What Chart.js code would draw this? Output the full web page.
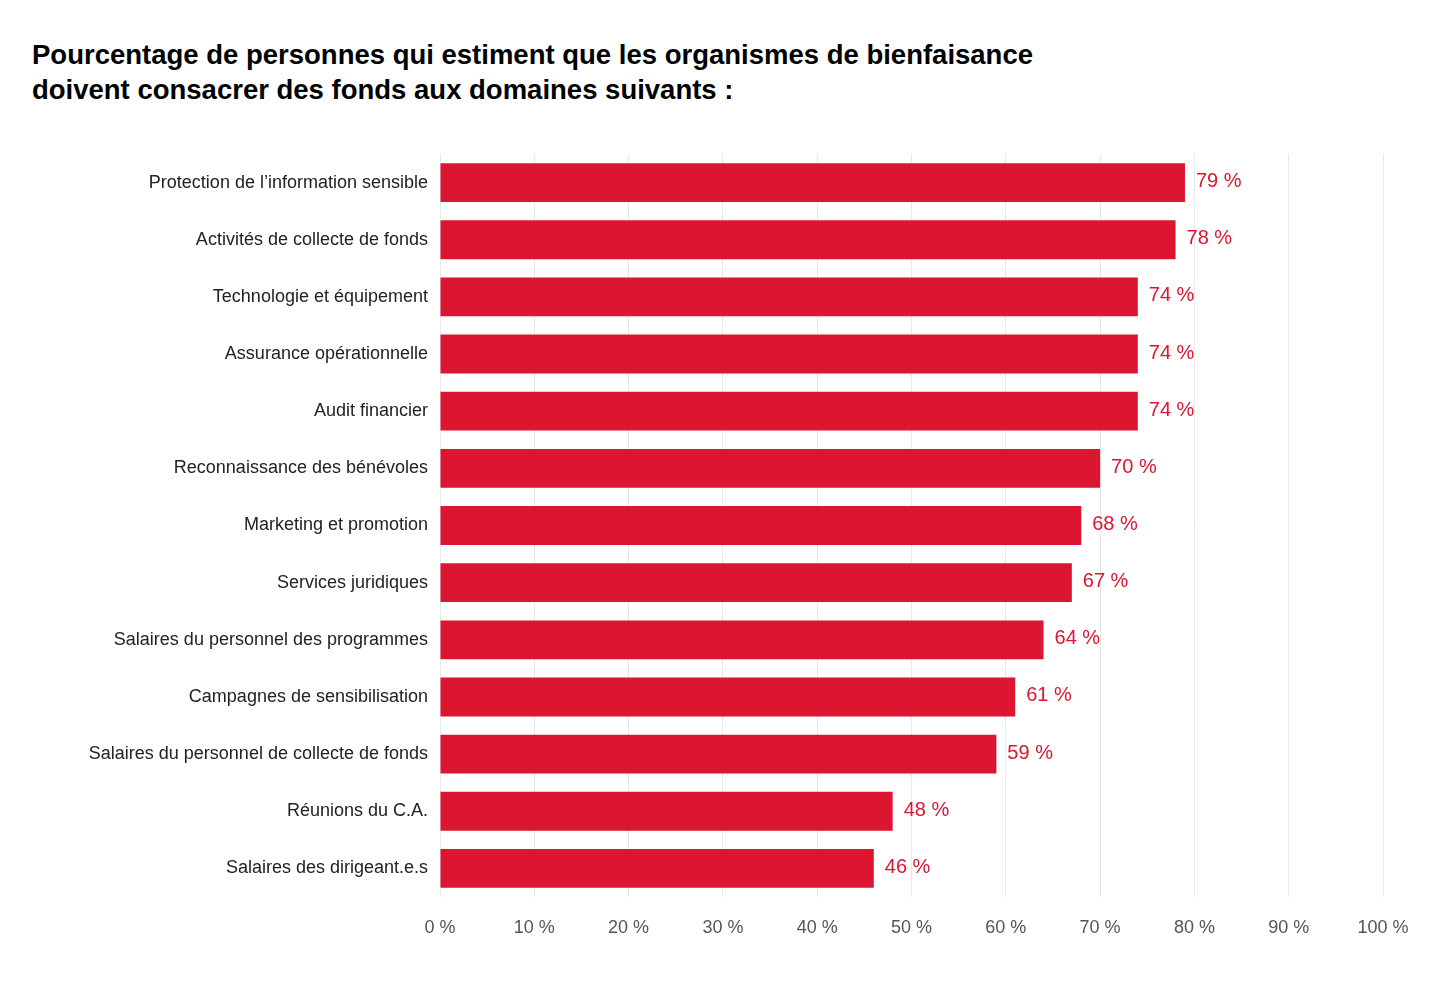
<!DOCTYPE html>
<html>
<head>
<meta charset="utf-8">
<script src="https://cdn.jsdelivr.net/npm/chart.js@4/dist/chart.umd.min.js"></script>
<style>
  body { margin: 0; background: #fff; font-family: "Liberation Sans", Arial, sans-serif; }
  #title { position: absolute; left: 32px; top: 37px; font-size: 27.5px; font-weight: bold; line-height: 35px; color: #000; }
  #wrap { position: absolute; left: 0; top: 0; width: 1441px; height: 983px; }
</style>
</head>
<body>
<div id="title">Pourcentage de personnes qui estiment que les organismes de bienfaisance<br>doivent consacrer des fonds aux domaines suivants :</div>
<div id="wrap"><canvas id="chart"></canvas></div>
<script>
const categories = [
  "Protection de l’information sensible",
  "Activités de collecte de fonds",
  "Technologie et équipement",
  "Assurance opérationnelle",
  "Audit financier",
  "Reconnaissance des bénévoles",
  "Marketing et promotion",
  "Services juridiques",
  "Salaires du personnel des programmes",
  "Campagnes de sensibilisation",
  "Salaires du personnel de collecte de fonds",
  "Réunions du C.A.",
  "Salaires des dirigeant.e.s"
];
const values = [79, 78, 74, 74, 74, 70, 68, 67, 64, 61, 59, 48, 46];
const barColor = "#dc1531";

const valueLabels = {
  id: "valueLabels",
  afterDatasetsDraw(chart) {
    const ctx = chart.ctx;
    const meta = chart.getDatasetMeta(0);
    ctx.save();
    ctx.font = "20px 'Liberation Sans', Arial, sans-serif";
    ctx.fillStyle = barColor;
    ctx.textBaseline = "middle";
    meta.data.forEach(function(bar, i) {
      ctx.fillText(values[i] + " %", bar.x + 11, bar.y - 1);
    });
    ctx.restore();
  }
};

new Chart(document.getElementById("chart"), {
  type: "bar",
  data: {
    labels: categories,
    datasets: [{ data: values, backgroundColor: barColor, categoryPercentage: 1, barPercentage: 0.68 }]
  },
  options: {
    indexAxis: "y",
    responsive: true,
    maintainAspectRatio: false,
    animation: false,
    layout: { padding: { top: 154, right: 58, bottom: 46, left: 0 } },
    plugins: { legend: { display: false }, tooltip: { enabled: false } },
    scales: {
      x: {
        min: 0, max: 100,
        ticks: { stepSize: 10, padding: 20, color: "#555", font: { size: 18, family: "'Liberation Sans', Arial" },
                 callback: v => v + " %" },
        grid: { color: "#e8e8e8", drawTicks: false },
        border: { display: false },
        afterFit(s) { s.height = 40; }
      },
      y: {
        ticks: { padding: 12, color: "#222", font: { size: 18, family: "'Liberation Sans', Arial" } },
        grid: { display: false, drawTicks: false },
        border: { display: false },
        afterFit(s) { s.width = 440; }
      }
    }
  },
  plugins: [valueLabels]
});
</script>
</body>
</html>
